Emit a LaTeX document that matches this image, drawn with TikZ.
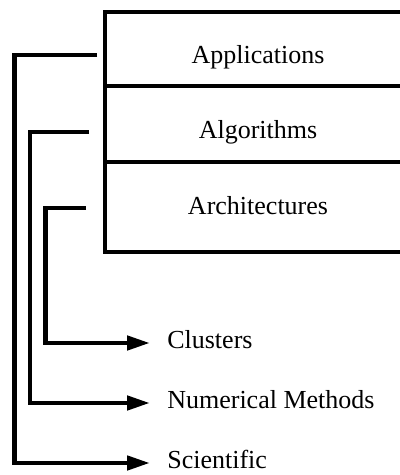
\documentclass[tikz,border=0pt]{standalone}
\usepackage{fontspec}
\setmainfont{Liberation Serif}
\usetikzlibrary{positioning,arrows.meta}

\begin{document}
\begin{tikzpicture}[x=0.5pt, y=-0.5pt, line width=2.3pt, font=\fontsize{13}{15}\selectfont]
\tikzstyle{row}=[draw, rectangle, minimum width=153pt, outer sep=0pt, inner sep=0pt]
\tikzstyle{leaf}=[anchor=west, inner xsep=7.5pt, inner ysep=0pt, text height=5pt, text depth=0pt]
\tikzstyle{conn}=[-{Triangle[length=11.5pt, width=7pt]}]
\useasboundingbox (0,0) rectangle (400,475);
\clip (0,0) rectangle (400,475);
% stacked layers
\node (app) [row, minimum height=37pt] at (258,49) {};
\node (alg) [row, minimum height=38pt, below=0pt of app] {};
\node (arch) [row, minimum height=45pt, below=0pt of alg] {};
\node (lapp) [anchor=base] at (258,64) {Applications};
\node (lalg) [anchor=base] at (258,139) {Algorithms};
\node (larch) [anchor=base] at (258,215) {Architectures};
% leaves
\node (clu) [leaf] at (150,343) {Clusters};
\node (num) [leaf] at (150,403) {Numerical Methods};
\node (sci) [leaf] at (150,463) {Scientific};
\coordinate (c1) at (14.5,0);
\coordinate (c2) at (30,0);
\coordinate (c3) at (45.5,0);
\draw [conn, shorten <=4pt] (app.west |- 0,55) -| (c1 |- sci.west) -- (sci.west);
\draw [conn, shorten <=8pt] (alg.west |- 0,132) -| (c2 |- num.west) -- (num.west);
\draw [conn, shorten <=9.5pt] (arch.west |- 0,208) -| (c3 |- clu.west) -- (clu.west);
\end{tikzpicture}
\end{document}
